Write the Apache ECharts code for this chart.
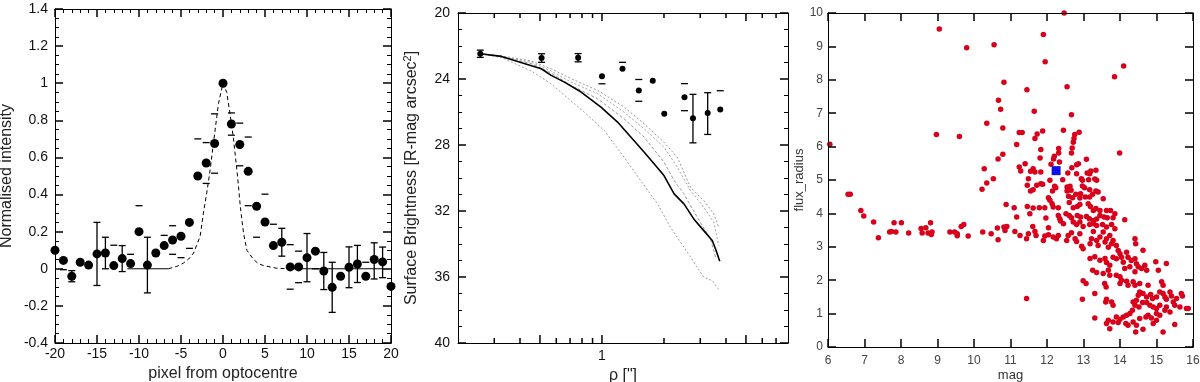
<!DOCTYPE html>
<html>
<head>
<meta charset="utf-8">
<script src="https://cdn.jsdelivr.net/npm/echarts@6.0.0/dist/echarts.min.js"></script>
<style>
  html, body { margin: 0; padding: 0; background: #fff; }
  #chart { width: 1200px; height: 382px; }
</style>
</head>
<body>
<div id="chart"></div>
<script>
// ---- panel 1 : radial profile around the optocentre
var pixelOffset = [-20, -19, -18, -17, -16, -15, -14, -13, -12, -11, -10, -9, -8, -7, -6, -5, -4, -3, -2, -1,
  0, 1, 2, 3, 4, 5, 6, 7, 8, 9, 10, 11, 12, 13, 14, 15, 16, 17, 18, 19, 20];
var intensity = [0.10, 0.045, -0.04, 0.035, 0.02, 0.08, 0.085, 0.017, 0.055, 0.028, 0.20, 0.02, 0.085, 0.125, 0.155, 0.175, 0.25, 0.50, 0.57, 0.675,
  1.00, 0.78, 0.67, 0.525, 0.337, 0.252, 0.125, 0.143, 0.01, 0.01, 0.06, 0.095, -0.012, -0.10, -0.04, 0.008, 0.026, -0.04, 0.05, 0.037, -0.095];
var intensityErrUp = [0, 0, 0.03, 0, 0, 0.17, 0.085, 0.11, 0.07, 0.05, 0.14, 0.15, 0, 0.055, 0.077, 0, 0, 0.2, 0.11, 0.16,
  0, 0.06, 0.115, 0.185, 0, 0.15, 0.115, 0.075, 0.12, 0.085, 0.13, 0, 0.1, 0.135, 0, 0.11, 0.1, 0.075, 0.09, 0.08, 0];
var intensityErrDown = [0, 0.05, 0.03, 0, 0, 0.17, 0.085, 0, 0.07, 0, 0, 0.15, 0, 0, 0.077, 0.115, 0.14, 0, 0.11, 0.16,
  0, 0.06, 0.115, 0.185, 0.167, 0, 0, 0.075, 0.12, 0.085, 0.13, 0.095, 0.1, 0.135, 0, 0.11, 0.1, 0, 0.105, 0.085, 0];
var intensityStem = [0, 0, 1, 0, 0, 1, 1, 0, 1, 0, 0, 1, 0, 0, 0, 0, 0, 0, 0, 0,
  0, 0, 0, 0, 0, 0, 0, 1, 0, 0, 1, 0, 1, 1, 0, 1, 1, 0, 1, 1, 0];
// PSF model (dashed) and the zero level
var modelX = [-6.5, -5.5, -4.7, -4.1, -3.5, -2.72, -2.33, -1.93, -1.53, -1.13, -0.54, 0, 0.45, 0.85, 1.25, 1.73, 2.05, 2.45, 2.84, 3.64, 4.2, 4.83, 5.6, 6.4, 7.8];
var modelY = [0, 0.013, 0.031, 0.052, 0.085, 0.175, 0.30, 0.41, 0.534, 0.68, 0.89, 1.0, 0.95, 0.83, 0.70, 0.50, 0.34, 0.19, 0.10, 0.05, 0.028, 0.017, 0.01, 0.003, 0];
var zeroLeft = [-11.4, -6.5];
var zeroRight = [7.8, 19.0];

// ---- panel 2 : surface brightness profile
var rho = [0.2566, 0.509, 0.766, 1.0, 1.258, 1.509, 1.764, 2.006, 2.515, 2.765, 3.26, 3.75];
var sb = [22.47, 22.73, 22.71, 23.83, 23.38, 24.69, 24.1, 26.1, 25.1, 26.38, 26.06, 25.85];
var sbErrBright = [0.22, 0.26, 0.25, 0, 0.39, 0.66, 0, 0, 0.82, 1.45, 1.23, 1.14];
var sbErrFaint = [0.22, 0.26, 0.25, 0.46, 0, 0.66, 0, 0, 0.82, 1.49, 1.30, 0];
var sbStem = [1, 1, 1, 0, 0, 0, 0, 0, 0, 1, 1, 0];
var psfProfile = [[0.2566, 22.47], [0.325, 22.63], [0.507, 23.38], [0.567, 23.78], [0.657, 24.19], [0.792, 24.79], [0.989, 25.7],
  [1.19, 26.61], [1.38, 27.52], [1.60, 28.43], [1.79, 29.14], [2.0, 29.85], [2.24, 30.96], [2.50, 31.57], [2.79, 32.48],
  [3.12, 33.19], [3.43, 33.79], [3.56, 34.30], [3.73, 35.05]];
var grayProfileA = [[0.2566, 22.47], [0.325, 22.6], [0.454, 22.91], [0.567, 23.38], [0.708, 23.98], [0.953, 24.69], [1.28, 25.7],
  [1.60, 26.71], [2.0, 27.83], [2.32, 28.74], [2.69, 30.56], [3.12, 31.37], [3.49, 32.18], [3.69, 32.98]];
var grayProfileB = [[0.2566, 22.47], [0.325, 22.62], [0.454, 22.99], [0.567, 23.52], [0.708, 24.19], [0.953, 24.89], [1.28, 26.01],
  [1.60, 27.02], [2.0, 28.13], [2.32, 29.34], [2.69, 30.76], [3.12, 31.77], [3.49, 32.68], [3.69, 34.1]];
var grayProfileC = [[0.2566, 22.47], [0.325, 22.64], [0.454, 23.07], [0.567, 23.64], [0.708, 24.39], [0.953, 25.2], [1.28, 26.41],
  [1.60, 27.52], [2.0, 29.04], [2.24, 30.15], [2.50, 30.96], [2.90, 32.38], [3.36, 33.69], [3.56, 34.8]];
var grayProfileLow = [[0.2566, 22.47], [0.325, 22.7], [0.454, 23.52], [0.567, 24.29], [0.657, 24.99], [0.821, 26.01], [1.026, 27.12],
  [1.28, 28.74], [1.54, 30.15], [1.86, 31.57], [2.15, 32.98], [2.50, 34.2], [2.90, 35.41], [3.12, 36.02], [3.43, 36.22], [3.73, 36.83]];
var rhoTicks = [0.3, 0.4, 0.5, 0.6, 0.7, 0.8, 0.9, 1, 2, 3, 4, 5, 6, 7];
var rhoMajorTicks = [0.5, 1, 5];

// ---- panel 3 : flux radius vs magnitude
var magRadius = [
  [12.47, 10.0], [9.05, 9.52], [11.9, 9.36], [10.55, 9.05], [9.8, 8.96], [11.95, 8.54], [14.1, 8.41], [13.85, 8.09],
  [10.82, 7.93], [12.55, 7.79], [11.45, 7.7], [8.97, 6.36], [9.6, 6.3], [6.05, 6.07], [10.35, 6.7], [10.28, 5.34],
  [10.67, 7.39], [10.73, 7.12], [11.65, 7.06], [12.67, 6.95], [10.79, 6.56], [11.24, 6.42], [11.32, 6.42], [11.88, 6.47],
  [11.73, 6.38], [11.67, 6.24], [12.45, 6.49], [12.88, 6.43], [12.76, 6.36], [12.74, 6.24], [12.72, 6.13], [12.69, 5.96],
  [11.17, 6.06], [11.83, 5.91], [12.32, 5.94], [12.32, 5.81], [12.67, 5.81], [13.99, 5.81], [10.79, 5.77], [10.66, 5.63],
  [12.2, 5.71], [12.18, 5.63], [11.81, 5.66], [13.08, 5.62], [12.86, 5.49], [12.81, 5.46], [11.4, 5.49], [12.11, 5.47],
  [12.34, 5.54], [11.24, 5.39], [11.28, 5.27], [11.62, 5.34], [11.55, 5.26], [11.67, 5.24], [11.83, 5.24], [12.68, 5.37],
  [12.57, 5.21], [12.81, 5.19], [13.1, 5.21], [13.2, 5.27], [13.34, 5.29], [13.17, 5.19], [10.53, 5.04], [11.49, 5.04],
  [12.08, 4.99], [12.43, 5.01], [12.94, 5.04], [12.97, 4.99], [13.14, 5.01], [13.31, 5.03], [13.36, 4.99], [11.72, 4.84],
  [11.83, 4.89], [11.88, 4.87], [11.46, 4.84], [12.21, 4.81], [12.24, 4.77], [12.55, 4.79], [12.63, 4.81], [12.97, 4.82],
  [13.03, 4.77], [11.55, 4.67], [11.62, 4.71], [12.15, 4.67], [12.55, 4.67], [12.66, 4.69], [13.17, 4.71], [13.34, 4.67],
  [13.4, 4.64], [12.79, 4.57], [12.92, 4.59], [13.25, 4.57], [12.59, 4.51], [12.7, 4.47], [12.04, 4.47], [12.08, 4.39],
  [12.9, 4.46], [13.05, 4.49], [13.17, 4.49], [13.54, 4.44], [10.88, 4.27], [11.46, 4.21], [11.1, 4.17], [11.62, 4.16],
  [11.79, 4.17], [11.94, 4.17], [12.14, 4.29], [12.17, 4.19], [12.31, 4.17], [12.61, 4.33], [12.72, 4.17], [12.83, 4.21],
  [12.9, 4.27], [13.13, 4.29], [13.19, 4.21], [13.27, 4.09], [13.34, 4.15], [13.45, 4.09], [13.63, 4.09], [13.74, 4.09],
  [11.17, 3.89], [11.53, 3.99], [11.97, 3.86], [12.31, 3.94], [12.35, 3.84], [12.52, 3.99], [12.61, 3.94], [12.67, 3.87],
  [12.83, 3.94], [12.92, 3.89], [13.08, 3.91], [13.16, 3.84], [13.27, 3.79], [13.36, 3.83], [13.45, 3.94], [13.56, 3.89],
  [13.65, 3.87], [13.81, 3.87], [13.86, 3.99], [14.13, 3.81], [12.37, 3.77], [12.45, 3.69], [12.72, 3.74], [12.81, 3.67],
  [12.9, 3.74], [12.99, 3.61], [13.17, 3.67], [13.27, 3.69], [13.36, 3.64], [13.52, 3.67], [13.63, 3.59], [13.77, 3.67],
  [10.64, 3.56], [10.82, 3.59], [10.9, 3.61], [11.61, 3.61], [12.04, 3.57],
  [6.55, 4.57], [6.61, 4.57], [6.9, 4.09], [6.98, 3.92], [7.25, 3.74], [7.38, 3.27], [7.69, 3.44], [7.74, 3.46],
  [7.81, 3.72], [7.86, 3.44], [8.01, 3.72], [8.21, 3.41], [8.55, 3.55], [8.58, 3.41], [8.68, 3.57], [8.74, 3.41],
  [8.81, 3.72], [8.85, 3.44], [8.83, 3.37], [9.34, 3.44], [9.47, 3.44], [9.54, 3.39], [9.54, 3.33], [9.65, 3.61],
  [9.72, 3.67], [9.84, 3.32], [10.22, 4.72], [10.35, 4.91], [10.24, 3.44], [10.47, 3.39], [10.66, 3.21],
  [10.85, 3.49], [11.12, 3.46], [11.26, 3.34], [11.44, 3.24], [11.49, 3.39], [11.67, 3.46], [11.70, 3.34], [11.90, 3.19],
  [11.94, 3.32], [12.04, 3.36], [12.17, 3.29], [12.26, 3.24], [12.31, 3.34], [12.54, 3.19], [12.58, 3.34], [12.67, 3.42],
  [12.77, 3.24], [12.81, 3.16], [12.90, 3.39], [12.95, 3.02], [12.99, 2.94], [13.18, 3.09], [13.22, 3.24], [13.27, 3.46],
  [13.36, 3.19], [13.40, 3.04], [13.45, 3.29], [13.54, 3.44], [13.59, 3.14], [13.63, 3.24], [13.68, 2.99], [13.72, 3.34],
  [13.77, 3.09], [13.81, 3.19], [13.86, 3.54], [13.90, 3.04], [13.95, 2.89], [14.0, 2.79], [13.81, 2.69], [13.90, 2.64],
  [14.04, 2.69], [14.09, 2.54], [14.18, 2.84], [14.22, 2.69], [14.31, 2.59], [14.41, 2.64], [14.45, 2.49], [14.27, 2.40],
  [14.13, 2.35], [14.41, 2.25], [14.50, 2.40], [14.59, 2.35], [14.63, 2.90], [14.68, 2.45], [14.73, 2.30], [14.98, 2.55],
  [15.05, 2.30], [15.27, 2.50], [14.41, 3.24], [14.43, 3.09], [13.72, 2.45], [13.63, 2.53], [13.59, 2.65], [13.45, 2.60],
  [13.31, 2.70], [13.18, 2.65], [13.25, 2.30], [13.36, 2.23], [13.54, 2.20], [13.68, 2.30], [13.72, 2.15], [13.90, 2.15],
  [14.0, 2.10], [14.0, 1.90], [14.04, 2.0], [14.18, 1.97], [14.22, 1.85], [14.36, 1.95], [14.41, 1.85], [14.54, 1.90],
  [14.77, 1.85], [15.14, 1.95], [15.18, 1.85], [14.54, 1.65], [14.50, 1.55], [14.63, 1.60], [14.73, 1.50], [14.84, 1.57],
  [14.89, 1.45], [15.0, 1.50], [15.09, 1.65], [15.18, 1.60], [15.23, 1.50], [15.27, 1.43], [15.37, 1.65], [15.41, 1.53],
  [15.46, 1.35], [15.50, 1.25], [15.55, 1.45], [15.64, 1.20], [15.68, 1.60], [15.71, 1.53], [15.82, 1.15], [15.87, 1.15],
  [14.45, 1.40], [14.36, 1.35], [14.41, 1.25], [14.52, 1.20], [14.62, 1.33], [14.73, 1.33], [14.82, 1.25], [14.91, 1.20],
  [15.0, 1.15], [15.09, 1.25], [15.23, 1.10], [15.27, 1.20], [15.37, 1.05], [14.34, 1.10], [14.27, 1.0], [14.18, 0.95],
  [14.09, 0.90], [14.0, 0.83], [13.90, 0.90], [13.81, 0.75], [13.72, 0.55], [13.63, 0.70], [14.16, 0.70], [14.22, 0.65],
  [14.36, 0.75], [14.45, 0.65], [14.43, 0.45], [14.63, 0.53], [14.71, 0.90], [14.77, 0.95], [14.86, 0.87], [14.91, 0.70],
  [15.0, 0.80], [15.09, 0.95], [15.18, 0.45], [15.50, 0.67], [15.0, 1.0], [14.54, 0.85], [12.99, 1.98], [13.07, 1.90],
  [12.97, 1.43], [13.31, 1.60], [13.63, 1.43], [13.61, 1.35], [13.77, 1.35], [13.81, 1.25], [13.58, 1.90], [13.62, 1.80],
  [13.31, 0.87], [13.68, 0.80], [13.95, 0.73], [11.44, 1.45]
];
var targetStar = [[12.25, 5.28]];

var FONT = '"Liberation Sans", Arial, sans-serif';
var myChart = echarts.init(document.getElementById('chart'));

// axis helper: boxed panels, ticks pointing inwards, axes on their own layer
function axis(grid, pos, min, max, interval, minor, labels, extra) {
  var a = {
    type: 'value', gridIndex: grid, position: pos, min: min, max: max, interval: interval,
    zlevel: 1, z: 10,
    splitLine: { show: false },
    axisLine: { show: true, onZero: false, lineStyle: { color: '#000', width: 1 } },
    axisTick: { show: true, inside: true, length: 8, lineStyle: { color: '#000', width: 1.5 } },
    minorTick: { show: minor > 0, splitNumber: minor || 1, length: 4, lineStyle: { color: '#000', width: 1 } },
    axisLabel: { show: !!labels, color: '#111', fontSize: 14, fontFamily: FONT, margin: 6 }
  };
  return Object.assign(a, extra || {});
}

// error bars: [x, y, limitA, limitB, stem]
function errRender(capHalf) {
  return function (params, api) {
    var x = api.value(0), y = api.value(1), stem = api.value(4);
    var kids = [];
    var c = api.coord([x, y]);
    [api.value(2), api.value(3)].forEach(function (v) {
      if (isNaN(v)) return;
      var p = api.coord([x, v]);
      kids.push({ type: 'line', shape: { x1: p[0] - capHalf, y1: p[1], x2: p[0] + capHalf, y2: p[1] }, style: { stroke: '#000', lineWidth: 1.3 } });
      if (stem) kids.push({ type: 'line', shape: { x1: c[0], y1: c[1], x2: p[0], y2: p[1] }, style: { stroke: '#000', lineWidth: 1.3 } });
    });
    return { type: 'group', children: kids };
  };
}

// tick marks on the log axis (bottom and top edges)
function xTickRender(yBottom, yTop, majors) {
  return function (params, api) {
    var v = api.value(0);
    var len = majors.indexOf(v) >= 0 ? 8 : 5;
    var b = api.coord([v, yBottom]), t = api.coord([v, yTop]);
    return {
      type: 'group', children: [
        { type: 'line', shape: { x1: b[0], y1: b[1], x2: b[0], y2: b[1] - len }, style: { stroke: '#000', lineWidth: 1.5 } },
        { type: 'line', shape: { x1: t[0], y1: t[1], x2: t[0], y2: t[1] + len }, style: { stroke: '#000', lineWidth: 1.5 } }
      ]
    };
  };
}

var intensityPts = [], intensityErr = [];
for (var i = 0; i < pixelOffset.length; i++) {
  intensityPts.push([pixelOffset[i], intensity[i]]);
  intensityErr.push([pixelOffset[i], intensity[i],
    intensityErrUp[i] > 0 ? intensity[i] + intensityErrUp[i] : '-',
    intensityErrDown[i] > 0 ? intensity[i] - intensityErrDown[i] : '-',
    intensityStem[i]]);
}
var modelPts = modelX.map(function (x, k) { return [x, modelY[k]]; });

var sbPts = [], sbErr = [];
for (var j = 0; j < rho.length; j++) {
  sbPts.push([rho[j], sb[j]]);
  sbErr.push([rho[j], sb[j],
    sbErrBright[j] > 0 ? sb[j] - sbErrBright[j] : '-',
    sbErrFaint[j] > 0 ? sb[j] + sbErrFaint[j] : '-',
    sbStem[j]]);
}

var nameStyle = { color: '#222', fontSize: 16, fontFamily: FONT };

myChart.setOption({
  animation: false,
  backgroundColor: '#fff',
  grid: [
    { left: 55, top: 9, width: 336, height: 334, containLabel: false, outerBoundsMode: 'none' },
    { left: 458, top: 13, width: 330, height: 330, containLabel: false, outerBoundsMode: 'none' },
    { left: 828, top: 13, width: 365, height: 334, containLabel: false, outerBoundsMode: 'none' }
  ],
  xAxis: [
    axis(0, 'bottom', -20, 20, 5, 5, true, {
      name: 'pixel from optocentre', nameLocation: 'middle', nameGap: 21, nameTextStyle: nameStyle,
      axisLabel: { color: '#111', fontSize: 14, fontFamily: FONT, margin: 4 }
    }),
    axis(0, 'top', -20, 20, 5, 5, false),
    {
      type: 'log', logBase: 10, gridIndex: 1, position: 'bottom', min: 0.2, max: 8, zlevel: 1, z: 10,
      splitLine: { show: false }, axisTick: { show: false }, minorTick: { show: false },
      axisLine: { show: true, onZero: false, lineStyle: { color: '#000', width: 1 } },
      axisLabel: {
        color: '#111', fontSize: 14, fontFamily: FONT, margin: 6,
        formatter: function (v) { return Math.abs(v - 1) < 1e-6 ? '1' : ''; }
      },
      name: 'ρ ["]', nameLocation: 'middle', nameGap: 22, nameTextStyle: nameStyle
    },
    {
      type: 'log', logBase: 10, gridIndex: 1, position: 'top', min: 0.2, max: 8, zlevel: 1, z: 10,
      splitLine: { show: false }, axisTick: { show: false }, minorTick: { show: false }, axisLabel: { show: false },
      axisLine: { show: true, onZero: false, lineStyle: { color: '#000', width: 1 } }
    },
    axis(2, 'bottom', 6, 16, 1, 0, true, {
      name: 'mag', nameLocation: 'middle', nameGap: 22, nameMoveOverlap: false,
      nameTextStyle: { color: '#333', fontSize: 13, fontFamily: FONT },
      axisLabel: { color: '#444', fontSize: 12, fontFamily: FONT, margin: 8 }
    }),
    axis(2, 'top', 6, 16, 1, 0, false)
  ],
  yAxis: [
    axis(0, 'left', -0.4, 1.4, 0.2, 4, true, {
      name: 'Normalised intensity', nameLocation: 'middle', nameGap: 40, nameTextStyle: nameStyle,
      axisLabel: { color: '#111', fontSize: 14, fontFamily: FONT, margin: 7 }
    }),
    axis(0, 'right', -0.4, 1.4, 0.2, 4, false),
    axis(1, 'left', 20, 40, 4, 4, true, {
      inverse: true,
      name: '{t|Surface Brightness [R-mag arcsec}{s|2}{t|]}', nameLocation: 'middle', nameGap: 36,
      nameTextStyle: {
        color: '#222', fontFamily: FONT,
        rich: { t: { fontSize: 16, fontFamily: FONT, color: '#222' }, s: { fontSize: 11, fontFamily: FONT, color: '#222', padding: [0, 0, 9, 0] } }
      },
      axisLabel: { color: '#111', fontSize: 14, fontFamily: FONT, margin: 8 }
    }),
    axis(1, 'right', 20, 40, 4, 4, false, { inverse: true }),
    axis(2, 'left', 0, 10, 1, 0, true, {
      name: 'flux_radius', nameLocation: 'middle', nameGap: 22,
      nameTextStyle: { color: '#333', fontSize: 13, fontFamily: FONT },
      axisLabel: { color: '#444', fontSize: 12, fontFamily: FONT, margin: 5 }
    }),
    axis(2, 'right', 0, 10, 1, 0, false)
  ],
  series: [
    // panel 1
    {
      type: 'line', xAxisIndex: 0, yAxisIndex: 0, data: modelPts, showSymbol: false, silent: true,
      lineStyle: { color: '#000', width: 1, type: [4, 3] }
    },
    {
      type: 'line', xAxisIndex: 0, yAxisIndex: 0, data: zeroLeft.map(function (x) { return [x, 0]; }),
      showSymbol: false, silent: true, lineStyle: { color: '#000', width: 1 }
    },
    {
      type: 'line', xAxisIndex: 0, yAxisIndex: 0, data: zeroRight.map(function (x) { return [x, 0]; }),
      showSymbol: false, silent: true, lineStyle: { color: '#000', width: 1 }
    },
    {
      type: 'custom', xAxisIndex: 0, yAxisIndex: 0, data: intensityErr, encode: { x: 0, y: 1 },
      renderItem: errRender(3.5), silent: true, z: 3
    },
    {
      type: 'scatter', xAxisIndex: 0, yAxisIndex: 0, data: intensityPts, symbolSize: 9,
      itemStyle: { color: '#000', opacity: 1 }, z: 4
    },
    // panel 2
    {
      type: 'line', xAxisIndex: 2, yAxisIndex: 2, data: grayProfileA, showSymbol: false, silent: true,
      lineStyle: { color: '#9a9a9a', width: 1, type: [2, 2] }
    },
    {
      type: 'line', xAxisIndex: 2, yAxisIndex: 2, data: grayProfileB, showSymbol: false, silent: true,
      lineStyle: { color: '#a5a5a5', width: 1, type: [2, 2] }
    },
    {
      type: 'line', xAxisIndex: 2, yAxisIndex: 2, data: grayProfileC, showSymbol: false, silent: true,
      lineStyle: { color: '#9a9a9a', width: 1, type: [3, 2] }
    },
    {
      type: 'line', xAxisIndex: 2, yAxisIndex: 2, data: grayProfileLow, showSymbol: false, silent: true,
      lineStyle: { color: '#a0a0a0', width: 1, type: [2, 2] }
    },
    {
      type: 'line', xAxisIndex: 2, yAxisIndex: 2, data: psfProfile, showSymbol: false, silent: true,
      lineStyle: { color: '#000', width: 1.6 }
    },
    {
      type: 'custom', xAxisIndex: 2, yAxisIndex: 2, data: sbErr, encode: { x: 0, y: 1 },
      renderItem: errRender(3.5), silent: true, z: 3
    },
    {
      type: 'scatter', xAxisIndex: 2, yAxisIndex: 2, data: sbPts, symbolSize: 6,
      itemStyle: { color: '#000', opacity: 1 }, z: 4
    },
    {
      type: 'custom', xAxisIndex: 2, yAxisIndex: 2, silent: true, encode: { x: 0, y: 1 }, zlevel: 1, z: 10,
      data: rhoTicks.map(function (v) { return [v, 30]; }),
      renderItem: xTickRender(40, 20, rhoMajorTicks)
    },
    // panel 3
    {
      type: 'scatter', xAxisIndex: 4, yAxisIndex: 4, data: magRadius, symbolSize: 5.5,
      itemStyle: { color: '#d8001a', opacity: 1 }
    },
    {
      type: 'scatter', xAxisIndex: 4, yAxisIndex: 4, data: targetStar, symbol: 'rect', symbolSize: 9,
      itemStyle: { color: '#1010e0', opacity: 1 }, z: 5
    }
  ]
});
</script>
</body>
</html>
